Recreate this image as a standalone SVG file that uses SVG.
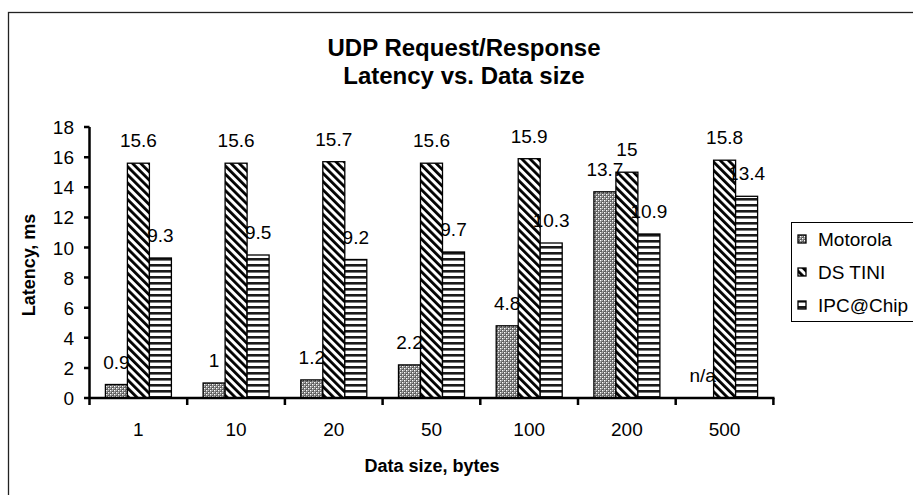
<svg xmlns="http://www.w3.org/2000/svg" width="913" height="495" viewBox="0 0 913 495">
<style>
text{font-family:"Liberation Sans",Arial,sans-serif;fill:#000}
.lbl{font-size:19px;text-anchor:middle}
.tick{font-size:19px;text-anchor:end}
.cat{font-size:19px;text-anchor:middle}
.ttl{font-size:24px;font-weight:bold;text-anchor:middle}
.ax{font-size:18px;font-weight:bold;text-anchor:middle}
.leg{font-size:19px}
.m{fill:url(#pm);stroke:#000;stroke-width:1.3}
.d{fill:url(#pd);stroke:#000;stroke-width:1.3}
.i{fill:url(#pi);stroke:#000;stroke-width:1.3}
.axis{stroke:#000;stroke-width:2.5;fill:none}
</style>
<defs>
<pattern id="pm" width="4" height="4" patternUnits="userSpaceOnUse">
<rect width="4" height="4" fill="#5e5e5e"/>
<rect x="0" y="0" width="1.4" height="1.4" fill="#fff"/>
<rect x="2" y="2" width="1.4" height="1.4" fill="#fff"/>
<rect x="2" y="0" width="1" height="1" fill="#bbb"/>
<rect x="0" y="2" width="1" height="1" fill="#bbb"/>
</pattern>
<pattern id="pd" width="5.8" height="5.8" patternUnits="userSpaceOnUse" patternTransform="rotate(-45)">
<rect width="5.8" height="5.8" fill="#fff"/>
<rect width="2.8" height="5.8" fill="#000"/>
</pattern>
<pattern id="pi" width="6" height="6" patternUnits="userSpaceOnUse">
<rect width="6" height="6" fill="#fff"/>
<rect y="0" width="6" height="2.6" fill="#1a1a1a"/>
</pattern>
</defs>
<rect x="8.5" y="12.5" width="1000" height="600" fill="#fff" stroke="#222" stroke-width="1.3"/>
<g id="title">
<text class="ttl" x="464" y="56">UDP Request/Response</text>
<text class="ttl" x="464" y="84">Latency vs. Data size</text>
</g>
<g id="series-motorola">
<rect class="m" x="105.4" y="384.5" width="22" height="13.5"/>
<rect class="m" x="203.1" y="383" width="22" height="15"/>
<rect class="m" x="300.8" y="379.9" width="22" height="18.1"/>
<rect class="m" x="398.5" y="364.9" width="22" height="33.1"/>
<rect class="m" x="496.2" y="325.8" width="22" height="72.2"/>
<rect class="m" x="593.9" y="191.8" width="22" height="206.2"/>
</g>
<g id="series-dstini">
<rect class="d" x="127.4" y="163.2" width="22" height="234.8"/>
<rect class="d" x="225.1" y="163.2" width="22" height="234.8"/>
<rect class="d" x="322.8" y="161.7" width="22" height="236.3"/>
<rect class="d" x="420.5" y="163.2" width="22" height="234.8"/>
<rect class="d" x="518.2" y="158.7" width="22" height="239.3"/>
<rect class="d" x="615.9" y="172.2" width="22" height="225.8"/>
<rect class="d" x="713.6" y="160.2" width="22" height="237.8"/>
</g>
<g id="series-ipc">
<rect class="i" x="149.4" y="258" width="22" height="140"/>
<rect class="i" x="247.1" y="255" width="22" height="143"/>
<rect class="i" x="344.8" y="259.5" width="22" height="138.5"/>
<rect class="i" x="442.5" y="252" width="22" height="146"/>
<rect class="i" x="540.2" y="243" width="22" height="155"/>
<rect class="i" x="637.9" y="234" width="22" height="164"/>
<rect class="i" x="735.6" y="196.3" width="22" height="201.7"/>
</g>
<g id="labels">
<text class="lbl" x="116.4" y="368.5">0.9</text>
<text class="lbl" x="214.1" y="367">1</text>
<text class="lbl" x="311.8" y="363.9">1.2</text>
<text class="lbl" x="409.5" y="348.9">2.2</text>
<text class="lbl" x="507.2" y="309.8">4.8</text>
<text class="lbl" x="604.9" y="175.8">13.7</text>
<text class="lbl" x="702.6" y="382">n/a</text>
<text class="lbl" x="138.4" y="147.2">15.6</text>
<text class="lbl" x="236.1" y="147.2">15.6</text>
<text class="lbl" x="333.8" y="145.7">15.7</text>
<text class="lbl" x="431.5" y="147.2">15.6</text>
<text class="lbl" x="529.2" y="142.7">15.9</text>
<text class="lbl" x="626.9" y="156.2">15</text>
<text class="lbl" x="724.6" y="144.2">15.8</text>
<text class="lbl" x="160.4" y="242">9.3</text>
<text class="lbl" x="258.1" y="239">9.5</text>
<text class="lbl" x="355.8" y="243.5">9.2</text>
<text class="lbl" x="453.5" y="236">9.7</text>
<text class="lbl" x="551.2" y="227">10.3</text>
<text class="lbl" x="648.9" y="218">10.9</text>
<text class="lbl" x="746.6" y="180.3">13.4</text>
</g>
<g id="axes">
<path class="axis" d="M89.5 127.1V405M89.5 398H774.5"/>
<path class="axis" stroke-width="2" d="M84 398H89.5M84 367.9H89.5M84 337.8H89.5M84 307.7H89.5M84 277.6H89.5M84 247.5H89.5M84 217.4H89.5M84 187.3H89.5M84 157.2H89.5M84 127.1H89.5"/>
<path class="axis" stroke-width="2" d="M187.2 398V405M284.9 398V405M382.6 398V405M480.3 398V405M578 398V405M675.7 398V405M773.4 398V405"/>
<text class="tick" x="74" y="405">0</text>
<text class="tick" x="74" y="374.9">2</text>
<text class="tick" x="74" y="344.8">4</text>
<text class="tick" x="74" y="314.7">6</text>
<text class="tick" x="74" y="284.6">8</text>
<text class="tick" x="74" y="254.5">10</text>
<text class="tick" x="74" y="224.4">12</text>
<text class="tick" x="74" y="194.3">14</text>
<text class="tick" x="74" y="164.2">16</text>
<text class="tick" x="74" y="134.1">18</text>
<text class="cat" x="138.4" y="436">1</text>
<text class="cat" x="236.1" y="436">10</text>
<text class="cat" x="333.8" y="436">20</text>
<text class="cat" x="431.5" y="436">50</text>
<text class="cat" x="529.2" y="436">100</text>
<text class="cat" x="626.9" y="436">200</text>
<text class="cat" x="724.6" y="436">500</text>
<text class="ax" x="432" y="472">Data size, bytes</text>
<text class="ax" transform="translate(35 265) rotate(-90)">Latency, ms</text>
</g>
<g id="legend">
<rect x="791.5" y="222.5" width="200" height="99" fill="#fff" stroke="#000" stroke-width="1"/>
<rect class="m" x="798" y="235" width="8" height="8" stroke-width="1"/>
<rect class="d" x="798" y="268" width="8" height="8" stroke-width="1"/>
<rect class="i" x="798" y="301" width="8" height="8" stroke-width="1"/>
<text class="leg" x="818" y="246">Motorola</text>
<text class="leg" x="818" y="279">DS TINI</text>
<text class="leg" x="818" y="312">IPC@Chip</text>
</g>
</svg>
